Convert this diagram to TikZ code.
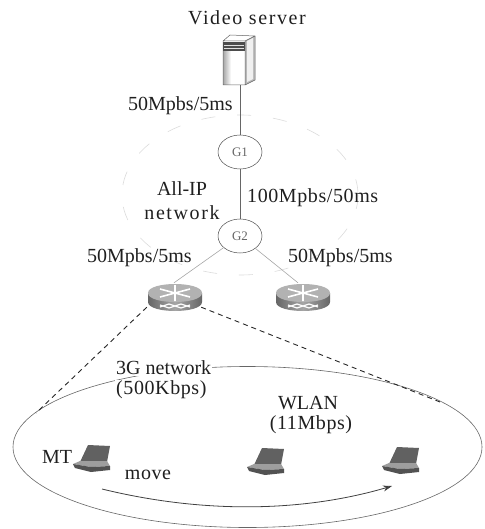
\documentclass[tikz,border=0pt]{standalone}
\usepackage{fontspec}
\setmainfont{Liberation Serif}
\newfontfamily\widefont[LetterSpace=8]{Liberation Serif}
\newfontfamily\midfont[LetterSpace=3]{Liberation Serif}
\usetikzlibrary{arrows.meta,shapes.geometric}
\definecolor{ink}{gray}{0.12}
\tikzset{
  lbl/.style={text=ink,font=\fontsize{20}{22}\selectfont,inner sep=0pt},
  midlbl/.style={text=ink,font=\midfont\fontsize{20}{22}\selectfont,inner sep=0pt},
  widelbl/.style={text=ink,font=\widefont\fontsize{20}{22}\selectfont,inner sep=0pt},
  gate/.style={draw=black!70,ellipse,minimum width=44,minimum height=34,inner sep=0pt,font=\fontsize{13}{14}\selectfont,text=black!60,line width=.5pt},
  link/.style={draw=black!60,line width=.7pt},
  lightlink/.style={draw=black!35,line width=.6pt},
  dashlink/.style={draw=black!85,line width=.9pt,dash pattern=on 5pt off 4pt},
  anchorbox/.style={inner sep=0pt,minimum width=#1,minimum height=24},
}
\newcommand{\routerpic}[2]{%
  \begin{scope}[shift={(#1,#2)}]
    \shade[left color=black!60,right color=black!60,middle color=black!35] (-27,-5) -- (-27,4) .. controls (-27,16) and (27,16) .. (27,4) -- (27,-5) -- cycle;
    \fill[black!30] (-27,-5) .. controls (-27,-17) and (27,-17) .. (27,-5) .. controls (27,7) and (-27,7) .. (-27,-5) -- cycle;
    \draw[white,line width=1.6pt] (-15,-9)--(15,-1) (15,-9)--(-15,-1) (0,-13)--(0,3);
    \draw[white,line width=1.2pt] (-15,9)--(-6,6)--(6,10)--(15,7) (-15,7)--(-6,10)--(6,6)--(15,9);
  \end{scope}}
\newcommand{\laptoppic}[2]{%
  \begin{scope}[shift={(#1,#2)}]
    \fill[black!62] (-6,-13) -- (16,-12) -- (13,4) -- (-14,4) -- cycle;
    \fill[black!38] (-21,6) -- (-14,3) -- (13,3) -- (16,8) -- (-3,9) -- cycle;
    \fill[black!68] (-21,6) -- (-3,9) -- (16,8) -- (16,12) -- (-3,14) -- (-19,10) -- cycle;
  \end{scope}}
\begin{document}
\begin{tikzpicture}[x=1pt,y=-1pt]
\useasboundingbox (0,0) rectangle (484,529);
% All-IP cloud (faint)
\draw[black!14,line width=.6pt,dash pattern=on 14pt off 22pt] (240,195) ellipse[x radius=118,y radius=80];
% WLAN ellipse
\node[draw=black!60,ellipse,minimum width=469,minimum height=161,inner sep=0pt,line width=.6pt] (cell) at (247.5,447) {};
% Nodes
\node[widelbl,anchor=center] (title) at (247,18) {Video server};
\node[anchorbox=34,minimum height=46] (server) at (240,62) {};
\node[gate] (g1) at (240,152) {G1};
\node[gate] (g2) at (240,236) {G2};
\node[anchorbox=54] (r1) at (174,295) {};
\node[anchorbox=44] (r2) at (298,295) {};
\coordinate (dl) at (36,413);
\coordinate (dr) at (440,402);
\coordinate (mvs) at (102,489);
\coordinate (mve) at (392,486);
% Links
\draw[link] (server) -- (g1);
\draw[link] (g1) -- (g2);
\draw[lightlink] (g2) -- (r1.north);
\draw[lightlink] (g2) -- (r2.north);
\draw[dashlink] (r1.south west) -- (dl);
\draw[dashlink] (r1.south east) -- (dr);
\draw[black!75,line width=.8pt,-{Stealth[length=9pt,width=6pt]}] (mvs) .. controls (200,513) and (300,513) .. (mve);
% Server
\fill[white] (223,41) -- (230,35) -- (255,36) -- (255,80) -- (245,85) -- (223,85) -- cycle;
\fill[black!28] (245,41) -- (255,36) -- (255,80) -- (245,85) -- cycle;
\fill[black!6] (247,41) -- (253,38) -- (253,79) -- (247,82) -- cycle;
\shade[left color=black!35,right color=white] (223,52) rectangle (231,85);
\draw[black!60,line width=.5pt] (223,85) -- (223,41) -- (230,35) -- (255,36) -- (255,80) -- (245,85) -- cycle (223,41) -- (245,41) -- (255,36) (245,41) -- (245,85);
\fill[black!70] (223,42.5) rectangle (245,51.5);
\draw[black!12,line width=.7pt] (224,45.5) -- (244,45.5) (224,48.5) -- (244,48.5);
% Routers and laptops
\routerpic{175}{298}
\routerpic{303}{298}
\laptoppic{94}{458}
\laptoppic{268}{461}
\laptoppic{403}{460}
% Labels
\node[lbl,anchor=west] (l1) at (128,105.5) {50Mpbs/5ms};
\node[midlbl,anchor=west] (l2) at (247,198) {100Mpbs/50ms};
\node[lbl,anchor=center] (allip) at (182,189) {All-IP};
\node[widelbl,anchor=center] (net) at (182,213) {network};
\node[lbl,anchor=west] (l3) at (87,258) {50Mpbs/5ms};
\node[lbl,anchor=west] (l4) at (288,258) {50Mpbs/5ms};
\node[lbl,anchor=west,fill=white,inner xsep=1pt,inner ysep=1pt] (tg) at (115,368) {3G network};
\node[midlbl,anchor=west,fill=white,inner xsep=1pt,inner ysep=1pt] (tk) at (115,390) {(500Kbps)};
\node[lbl,anchor=center] (wl) at (308,403) {WLAN};
\node[midlbl,anchor=center] (wr) at (311,425) {(11Mbps)};
\node[lbl,anchor=center] (mt) at (57,457) {MT};
\node[midlbl,anchor=center] (mv) at (148,475) {move};
\end{tikzpicture}
\end{document}
